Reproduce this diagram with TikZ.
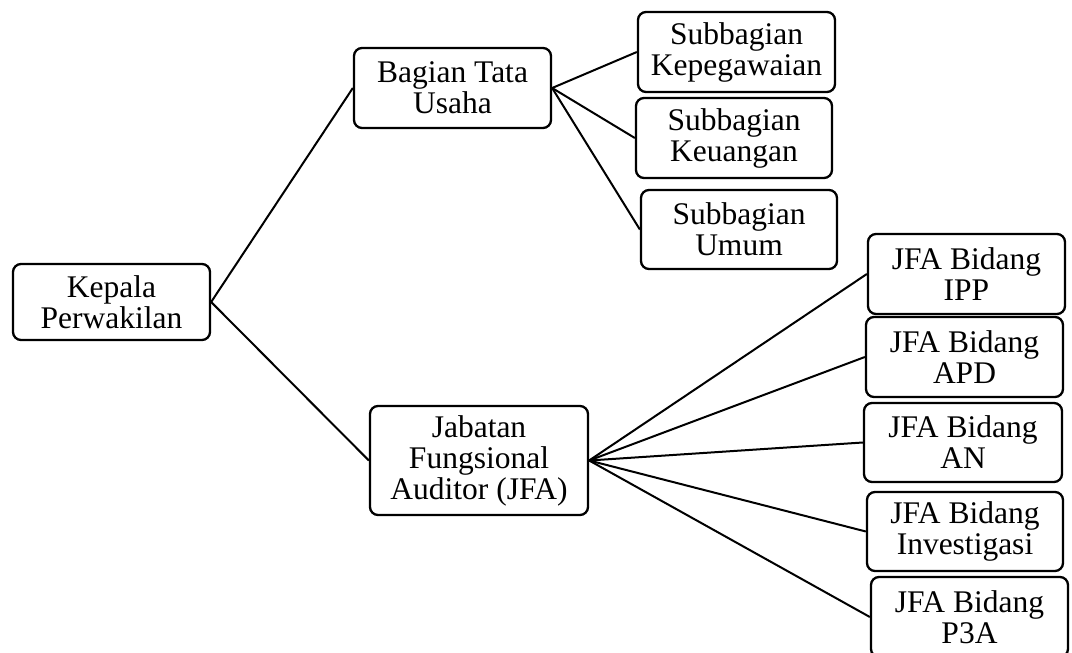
\documentclass[tikz,border=0pt]{standalone}
\usepackage{fontspec}
\setmainfont{Liberation Serif}
\begin{document}
\begin{tikzpicture}[x=1pt,y=-1pt,
  orgbox/.style={draw, line width=2.3pt, rounded corners=8pt, align=center, inner sep=0pt,
    font=\fontsize{31.5}{31}\selectfont},
  link/.style={line width=2pt}]
\clip (0,0) rectangle (1072,653);
\fill[white] (0,0) rectangle (1072,653);
\node[orgbox, minimum width=197pt, minimum height=76pt] (kep) at (111.5,302) {Kepala\\Perwakilan};
\node[orgbox, minimum width=197pt, minimum height=80pt] (bag) at (452.5,88) {Bagian Tata\\Usaha};
\node[orgbox, minimum width=197pt, minimum height=80pt] (peg) at (736.5,52) {Subbagian\\Kepegawaian};
\node[orgbox, minimum width=196pt, minimum height=80pt] (keu) at (734,138) {Subbagian\\Keuangan};
\node[orgbox, minimum width=196pt, minimum height=79pt] (umm) at (739,229.5) {Subbagian\\Umum};
\node[orgbox, minimum width=218pt, minimum height=109pt] (jfa) at (479,460.5) {Jabatan\\Fungsional\\Auditor (JFA)};
\node[orgbox, minimum width=197pt, minimum height=80pt] (ipp) at (966.5,274) {JFA Bidang\\IPP};
\node[orgbox, minimum width=197pt, minimum height=80pt] (apd) at (964.5,357) {JFA Bidang\\APD};
\node[orgbox, minimum width=198pt, minimum height=79pt] (an) at (963,442.5) {JFA Bidang\\AN};
\node[orgbox, minimum width=196pt, minimum height=79pt] (inv) at (965,531.5) {JFA Bidang\\Investigasi};
\node[orgbox, minimum width=197pt, minimum height=80pt] (p3a) at (969.5,617) {JFA Bidang\\P3A};
\draw[link] (kep.east) -- (bag.west);
\draw[link] (kep.east) -- (jfa.west);
\draw[link] (bag.east) -- (peg.west);
\draw[link] (bag.east) -- (keu.west);
\draw[link] (bag.east) -- (umm.west);
\draw[link] (jfa.east) -- (ipp.west);
\draw[link] (jfa.east) -- (apd.west);
\draw[link] (jfa.east) -- (an.west);
\draw[link] (jfa.east) -- (inv.west);
\draw[link] (jfa.east) -- (p3a.west);
\end{tikzpicture}
\end{document}
